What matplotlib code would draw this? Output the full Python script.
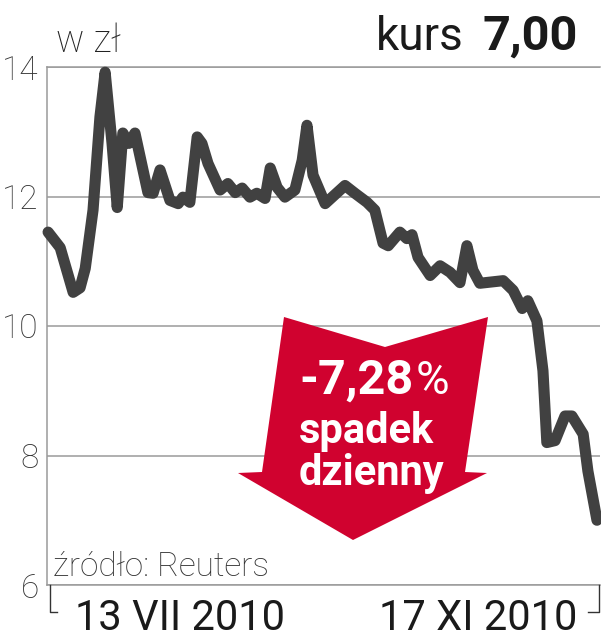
import matplotlib
matplotlib.use("Agg")
import matplotlib.pyplot as plt
from matplotlib.patches import Polygon

# --- data: days since 13 VII 2010, closing price in zl ---
days = [0, 2.8, 5.8, 7.4, 8.6, 10.4, 12.0, 13.2, 14.8, 16.0, 17.3, 18.7, 20.1,
        23.1, 24.3, 25.9, 28.2, 30.1, 31.2, 32.8, 34.5, 35.6, 37.0, 39.8, 41.6,
        43.3, 44.9, 46.7, 48.3, 50.2, 51.4, 53.0, 54.8, 57.1, 58.8, 59.9, 61.3,
        64.1, 68.7, 71.0, 73.8, 75.6, 77.5, 78.7, 81.4, 83.0, 84.2, 85.6, 88.4,
        90.7, 93.0, 95.3, 96.9, 98.3, 99.9, 105.3, 107.6, 109.7, 111.0, 113.1,
        114.5, 115.4, 117.3, 119.6, 121.2, 123.8, 124.9, 127]
price = [11.45, 11.21, 10.52, 10.59, 10.89, 11.79, 13.23, 13.92, 12.82, 11.83,
         12.98, 12.82, 12.98, 12.06, 12.05, 12.41, 11.94, 11.89, 11.99, 11.91,
         12.92, 12.82, 12.51, 12.10, 12.20, 12.06, 12.13, 11.99, 12.05, 11.97,
         12.44, 12.14, 11.99, 12.10, 12.56, 13.10, 12.33, 11.89, 12.17, 12.05,
         11.91, 11.79, 11.28, 11.24, 11.45, 11.35, 11.41, 11.06, 10.78, 10.93,
         10.83, 10.67, 11.24, 10.86, 10.66, 10.70, 10.55, 10.27, 10.39, 10.08,
         9.31, 8.20, 8.23, 8.61, 8.61, 8.33, 7.76, 7.00]
yticks = [6, 8, 10, 12, 14]
start_label = "13 VII 2010"
end_label = "17 XI 2010"
last_price = "7,00"
change = "-7,28"

W, H = 601, 640
fig = plt.figure(figsize=(W / 100, H / 100), dpi=100)

def px(x, y):
    # pixel position -> figure fraction
    return (x / W, 1 - y / H)

light = ["Roboto", "DejaVu Sans"]
bold_font = ["Roboto", "DejaVu Sans"]

ax = fig.add_axes([47 / W, 1 - 585 / H, 553 / W, 518 / H])
grey = "#9a9a9a"
ax.set_ylim(6, 14)
ax.set_xlim(-0.25, 127.7)
ax.set_yticks(yticks)
ax.set_yticklabels([str(t) for t in yticks], family=light,
                   fontweight="light", fontsize=24, color="#333333")
ax.set_xticks([])
ax.tick_params(axis="y", length=0, pad=6)
ax.grid(axis="y", color=grey, lw=1.1)
ax.set_axisbelow(True)
for s in ["left", "bottom", "top"]:
    ax.spines[s].set_color(grey)
    ax.spines[s].set_linewidth(1.1)
ax.spines["right"].set_visible(False)

ax.plot(days, price, color="#414141", lw=8, solid_joinstyle="round",
        solid_capstyle="round", clip_on=False, zorder=4)

# red arrow
arrow_px = [(284, 317), (385, 347), (488, 317), (465, 472), (487, 473),
            (353, 540), (238, 473), (262, 472)]
arrow = Polygon([px(x, y) for x, y in arrow_px], closed=True,
                transform=fig.transFigure, facecolor="#d0022f",
                edgecolor="none", zorder=5, clip_on=False)
ax.add_patch(arrow)

fig.text(*px(414, 394), change, fontsize=35, fontweight="bold", color="white",
         family=bold_font, ha="right", va="baseline", zorder=6)
fig.text(*px(416, 394), "%", fontsize=33, color="white",
         family=bold_font, ha="left", va="baseline", zorder=6)
fig.text(*px(367, 443), "spadek", fontsize=30, fontweight="bold", color="white",
         family=bold_font, ha="center", va="baseline", zorder=6)
fig.text(*px(371, 485), "dzienny", fontsize=30, fontweight="bold", color="white",
         family=bold_font, ha="center", va="baseline", zorder=6)

# header texts
fig.text(*px(56, 52), "w zł", fontsize=27, fontweight="light", family=light,
         color="#222222", va="baseline")
fig.text(*px(464, 50), "kurs", fontsize=33, family=["Roboto", "DejaVu Sans"],
         color="#1a1a1a", ha="right", va="baseline")
fig.text(*px(482, 50), last_price, fontsize=35, fontweight="bold",
         family=bold_font, color="#1a1a1a", ha="left", va="baseline")

fig.text(*px(53, 576), "źródło: Reuters", fontsize=24, fontweight="light",
         family=light, color="#333333", va="baseline")

# bottom date labels with brackets
fig.text(*px(75, 630), start_label, fontsize=30, family=["Roboto", "DejaVu Sans"],
         color="#1a1a1a", ha="left", va="baseline")
fig.text(*px(577, 630), end_label, fontsize=30, family=["Roboto", "DejaVu Sans"],
         color="#1a1a1a", ha="right", va="baseline")
for xs, ys in [([50, 50, 57], [585, 612, 612]), ([599, 599, 588], [585, 612, 612])]:
    fig.add_artist(plt.Line2D([x / W for x in xs], [1 - y / H for y in ys],
                              color="#333333", lw=1.0, transform=fig.transFigure))

fig.savefig("out.png", dpi=100)
